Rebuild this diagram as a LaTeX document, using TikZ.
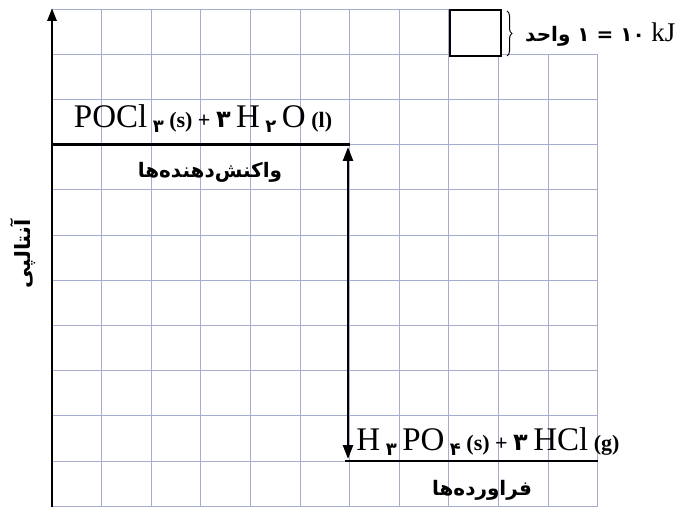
\documentclass[tikz,border=0pt]{standalone}
\usepackage{fontspec}
\setmainfont{Liberation Serif}
\newfontfamily\fa[Script=Arabic]{DejaVu Sans}
\TeXXeTstate=1
\usetikzlibrary{decorations.pathreplacing,arrows.meta}
\definecolor{gridc}{RGB}{165,172,205}
\newcommand{\pdsub}[1]{\raisebox{-5pt}{\fa\bfseries\fontsize{18}{20}\selectfont #1}}
\newcommand{\pdig}[1]{{\fa\bfseries\fontsize{24}{27}\selectfont #1}}
\newcommand{\phase}[1]{{\bfseries\fontsize{22}{25}\selectfont #1}}
\tikzset{
  gridline/.style={draw=gridc, line width=0.9pt},
  levelline/.style={line width=2.6pt},
  axisline/.style={line width=2.8pt,-{Triangle[length=13pt,width=9pt]}},
  deltaarrow/.style={line width=2.4pt,{Triangle[length=14pt,width=10pt]}-{Triangle[length=14pt,width=10pt]}},
  falabel/.style={font=\fa\bfseries\fontsize{20}{22}\selectfont, inner sep=0pt},
  formula/.style={font=\fontsize{33}{36}\selectfont, inner sep=0pt, anchor=base},
}
\begin{document}
\begin{tikzpicture}[x=1pt,y=-1pt]
\useasboundingbox (0,0) rectangle (678,508);
\fill[white] (0,0) rectangle (678,508);
% grid
\foreach \i in {1,...,9} \draw[gridline] (52+49.6*\i,9) -- (52+49.6*\i,506);
\foreach \i in {10,11} \draw[gridline] (52+49.6*\i,54.2) -- (52+49.6*\i,506);
\draw[gridline] (52,9) -- (501,9);
\foreach \j in {1,...,11} \draw[gridline] (52,9+45.2*\j) -- (597.6,9+45.2*\j);
% axis
\coordinate (axbot) at (52,507);
\coordinate (axtop) at (52,8);
\draw[axisline] (axbot) -- (axtop);
\node[falabel, font=\fa\bfseries\fontsize{21}{23}\selectfont, rotate=90] (ylab) at (23,254) {\beginR آنتالپی\endR};
% levels
\coordinate (rl) at (52,144.6);
\coordinate (rr) at (350,144.6);
\coordinate (pl) at (345,461);
\coordinate (pr) at (597.6,461);
\draw[levelline] (rl) -- (rr);
\draw[levelline] (pl) -- (pr);
\coordinate (atop) at (348,147);
\coordinate (abot) at (348,459);
\draw[deltaarrow] (atop) -- (abot);
% labels
\node[formula] (react) at (203,128) {POCl\,\pdsub{۳}\,\phase{(s)}\,\phase{+}\,\pdig{۳}\,H\,\pdsub{۲}\,O\,\phase{(l)}};
\node[falabel] (reactfa) at (210,172) {\beginR واکنش^^^^200cدهنده^^^^200cها\endR};
\node[formula] (prod) at (488,450) {H\,\pdsub{۳}\,PO\,\pdsub{۴}\,\phase{(s)}\,\phase{+}\,\pdig{۳}\,HCl\,\phase{(g)}};
\node[falabel] (prodfa) at (482,490) {\beginR فراورده^^^^200cها\endR};
% legend
\node[draw, line width=2pt, fill=white, minimum width=51pt, minimum height=46pt, inner sep=0pt] (unitbox) at (475.5,33) {};
\coordinate (bt) at (507,11);
\coordinate (bb) at (507,56);
\draw[line width=1pt, decorate, decoration={brace, amplitude=5pt}] (bt) -- (bb);
\node[anchor=base west, inner sep=0pt, font=\fontsize{27}{29}\selectfont] (unit) at (525,42) {{\fa\bfseries\fontsize{20}{22}\selectfont \beginR واحد\endR\ ۱ = ۱۰}\ kJ};
\end{tikzpicture}
\end{document}
